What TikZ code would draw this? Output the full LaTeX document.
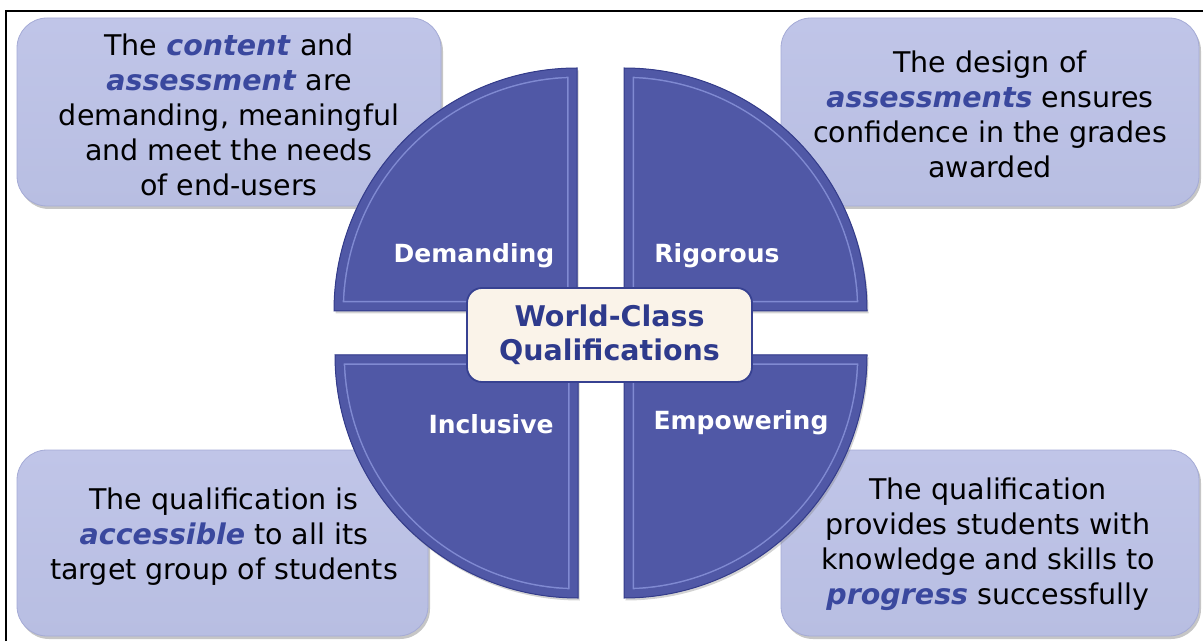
\documentclass[tikz,border=0pt]{standalone}
\usepackage{fontspec}
\setmainfont{DejaVu Sans}
\usetikzlibrary{shadows}
\definecolor{boxfill}{RGB}{184,190,226}
\definecolor{boxtop}{RGB}{192,197,232}
\definecolor{boxedge}{RGB}{165,171,214}
\definecolor{quadfill}{RGB}{80,88,166}
\definecolor{quadedge}{RGB}{52,60,138}
\definecolor{quadlight}{RGB}{128,138,210}
\definecolor{emphblue}{RGB}{58,72,158}
\definecolor{centerfill}{RGB}{250,243,233}
\definecolor{centeredge}{RGB}{55,65,145}
\definecolor{centertext}{RGB}{46,58,140}
\newcommand\kw[1]{\textcolor{emphblue}{\textbf{\textit{#1}}}}
\newcommand\quadrant[1]{%
  \path[fill=quadfill, drop shadow={opacity=0.35, shadow xshift=1.5pt, shadow yshift=-2.5pt}] #1;
  \begin{scope}
    \clip #1;
    \draw[line width=20pt, quadlight] #1;
    \draw[line width=17pt, quadfill] #1;
  \end{scope}
  \draw[quadedge, line width=1pt] #1;
}
\tikzset{
  infobox/.style={rounded corners=30pt, top color=boxtop, bottom color=boxfill,
    draw=boxedge, line width=0.8pt,
    drop shadow={opacity=0.45, shadow xshift=2pt, shadow yshift=-3pt}},
  infotext/.style={align=center, font=\fontsize{28.5}{35}\selectfont, text=black, inner sep=0pt},
  quadlabel/.style={text=white, font=\bfseries\fontsize{25}{30}\selectfont, inner sep=0pt},
  centerbox/.style={rounded corners=15pt, fill=centerfill, draw=centeredge, line width=1.8pt,
    text=centertext, align=center, font=\bfseries\fontsize{28.5}{34}\selectfont,
    minimum width=285pt, minimum height=94pt, inner sep=0pt}
}
\begin{document}
\begin{tikzpicture}[x=1pt, y=1pt]
\useasboundingbox (0,0) rectangle (1203,641);
% frame
\draw[line width=1.3pt] (6,0) -- (6,630) -- (1203,630);
% outer boxes
\node[infobox, minimum width=424pt, minimum height=188pt] (tlbox) at (229,529) {};
\node[infobox, minimum width=418pt, minimum height=188pt] (trbox) at (990,529) {};
\node[infobox, minimum width=411pt, minimum height=186pt] (blbox) at (222.5,98) {};
\node[infobox, minimum width=418pt, minimum height=186pt] (brbox) at (990,98) {};
\node[infotext] (tltext) at (229,526) {The \kw{content} and\\\kw{assessment} are\\demanding, meaningful\\and meet the needs\\of end-users};
\node[infotext] (trtext) at (990,527) {The design of\\\kw{assessments} ensures\\confidence in the grades\\awarded};
\node[infotext] (bltext) at (224,104) {The qualification is\\\kw{accessible} to all its\\target group of students};
\node[infotext] (brtext) at (988,97) {The qualification\\provides students with\\knowledge and skills to\\\kw{progress} successfully};
% quadrants
\quadrant{(577,330) -- (334,330) arc[start angle=180, end angle=90, radius=243pt] -- cycle}
\quadrant{(624,330) -- (624,573) arc[start angle=90, end angle=0, radius=243pt] -- cycle}
\quadrant{(578,286) -- (335,286) arc[start angle=180, end angle=270, radius=243pt] -- cycle}
\quadrant{(624,286) -- (867,286) arc[start angle=0, end angle=-90, radius=243pt] -- cycle}
\node[quadlabel] (demanding) at (474,385) {Demanding};
\node[quadlabel] (rigorous) at (717,385) {Rigorous};
\node[quadlabel] (inclusive) at (491,217) {Inclusive};
\node[quadlabel] (empowering) at (741,218) {Empowering};
% centre
\node[centerbox] (centre) at (609.5,306) {World-Class\\Qualifications};
\end{tikzpicture}
\end{document}
